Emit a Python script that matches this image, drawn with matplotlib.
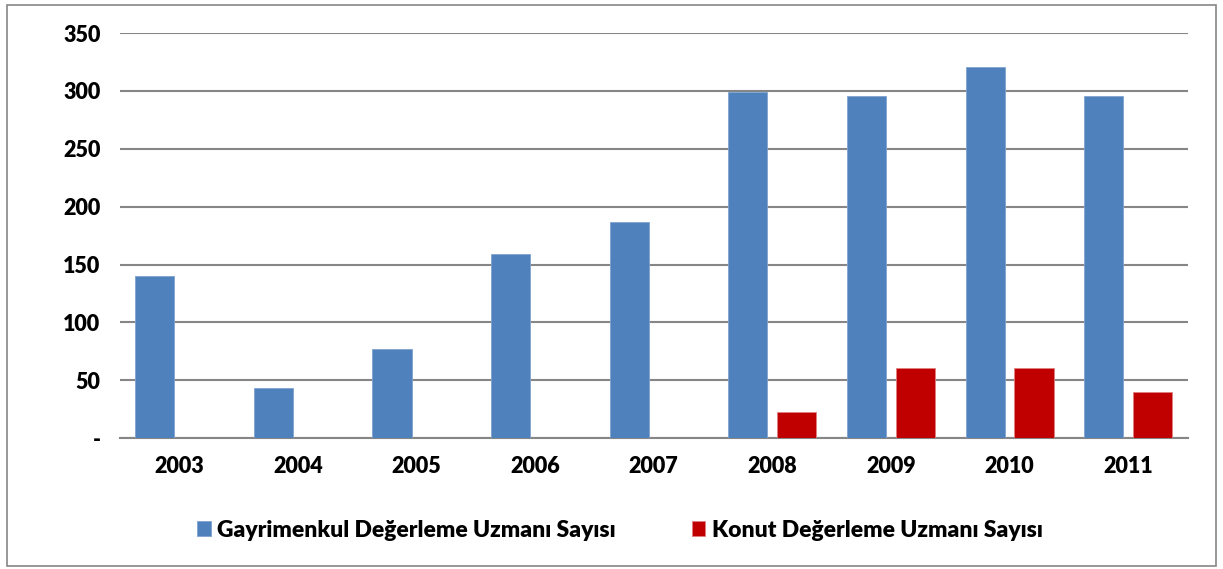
import numpy as np
import matplotlib
from matplotlib import pyplot as plt
from matplotlib.patches import Rectangle

plt.rcParams['font.family'] = ['Lato', 'DejaVu Sans']
plt.rcParams['font.weight'] = 'bold'

# veriler
yillar = ['2003', '2004', '2005', '2006', '2007', '2008', '2009', '2010', '2011']
gayrimenkul = [140, 43, 77, 159, 187, 299, 296, 321, 296]
konut = [0, 0, 0, 0, 0, 23, 61, 61, 40]
yticks = [0, 50, 100, 150, 200, 250, 300, 350]
ytick_labels = ['-', '50', '100', '150', '200', '250', '300', '350']

fig = plt.figure(figsize=(12.23, 5.69), dpi=100)
ax = fig.add_axes([0.098, 0.230, 0.873, 0.712])

x = np.arange(len(yillar))
w = 0.33
ax.bar(x - 0.206, gayrimenkul, w, color='#4F81BD', edgecolor='#7FA3D0', linewidth=0.6,
       label='Gayrimenkul Değerleme Uzmanı Sayısı', zorder=3)
ax.bar(x + 0.206, konut, w, color='#C00000', edgecolor='#E08080', linewidth=0.6,
       label='Konut Değerleme Uzmanı Sayısı', zorder=3)

ax.set_xlim(-0.5, len(yillar) - 0.5)
ax.set_ylim(0, 350)
ax.set_xticks(x)
ax.set_xticklabels(yillar, fontsize=15.5, fontweight='heavy')
ax.set_yticks(yticks)
ax.set_yticklabels(ytick_labels, fontsize=15.5, fontweight='heavy')
ax.tick_params(axis='both', length=0)
ax.tick_params(axis='x', pad=13)
ax.tick_params(axis='y', pad=14)
ax.grid(axis='y', color='#868686', linewidth=1.5, zorder=0)
for s in ['left', 'right', 'top']:
    ax.spines[s].set_visible(False)
ax.spines['bottom'].set_color('#868686')
ax.spines['bottom'].set_linewidth(1.5)

fig.legend(loc='center', bbox_to_anchor=(0.507, 0.068), ncol=2, frameon=False,
           prop={'size': 16.5, 'weight': 'heavy'}, handlelength=0.6, handleheight=0.65,
           handletextpad=0.3, columnspacing=3.3)

fig.patches.append(Rectangle((0.006, 0.006), 0.988, 0.985, transform=fig.transFigure,
                             fill=False, edgecolor='#868686', linewidth=1.2))

plt.savefig('out.png')
